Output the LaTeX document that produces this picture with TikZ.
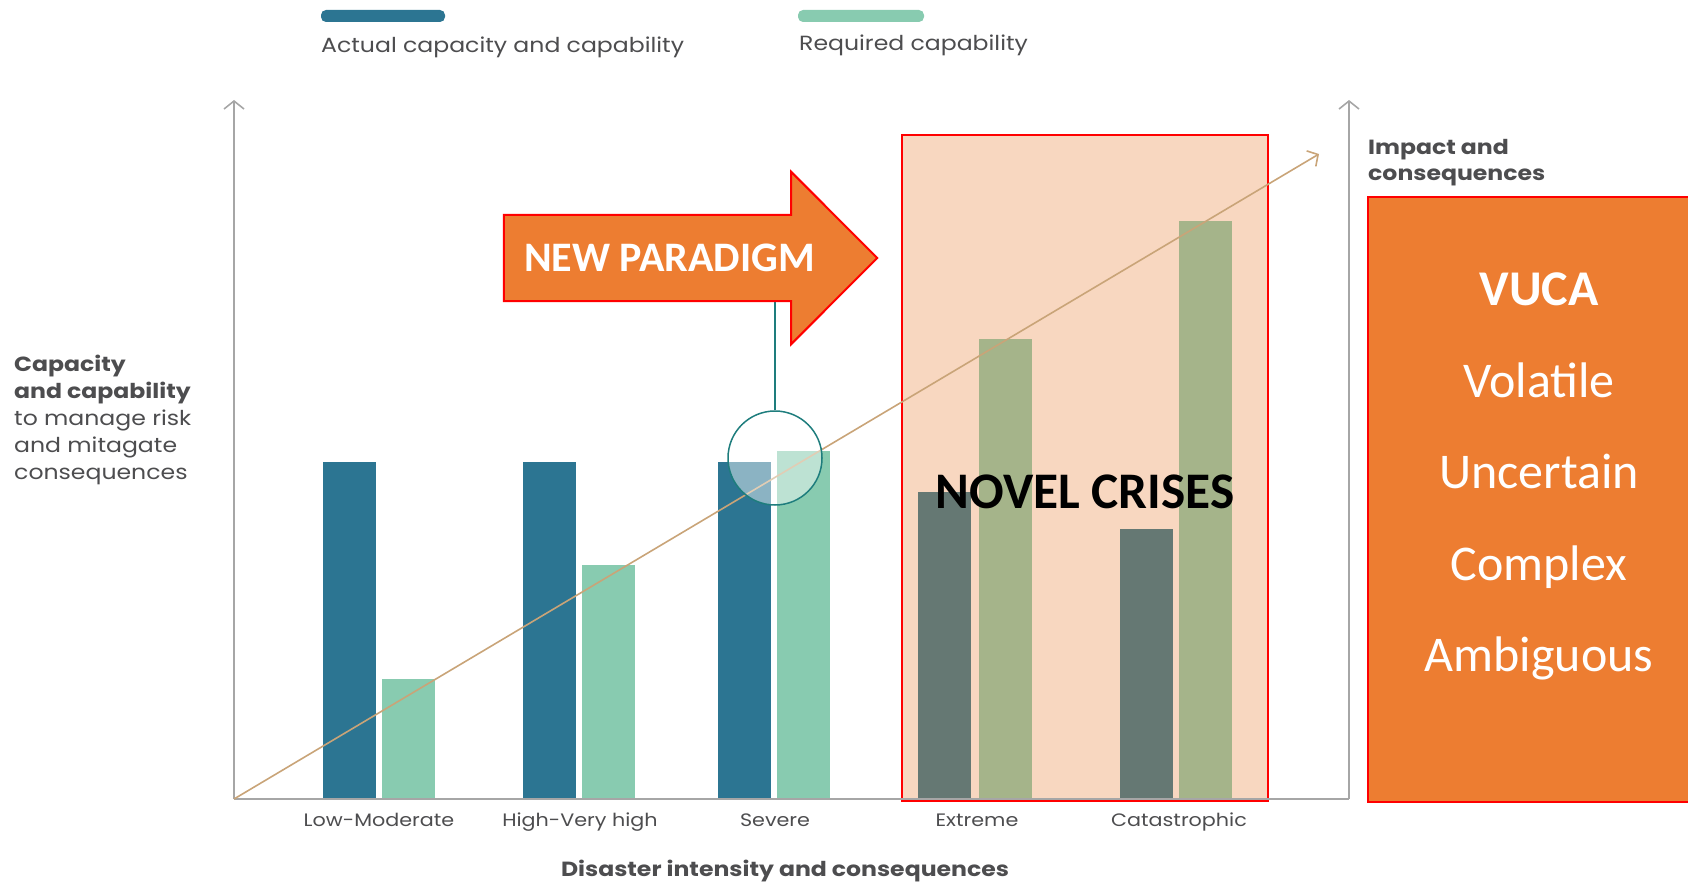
\documentclass[tikz,border=0pt]{standalone}
\usepackage{fontspec}
\setmainfont{Poppins}[FakeStretch=1.15]
\newfontfamily\calibri{Carlito}
\usetikzlibrary{arrows.meta,calc,positioning}
\definecolor{barA}{RGB}{44,117,146}
\definecolor{barR}{RGB}{136,203,176}
\definecolor{barX}{RGB}{101,120,115}
\definecolor{barG}{RGB}{165,180,138}
\definecolor{peach}{RGB}{248,215,192}
\definecolor{vucaorange}{RGB}{237,125,49}
\definecolor{trend}{RGB}{201,164,120}
\definecolor{axisgray}{RGB}{166,166,166}
\definecolor{ringteal}{RGB}{30,125,125}
\definecolor{labelgray}{RGB}{77,77,79}
\tikzset{
  axisline/.style={draw=axisgray,line width=1.6pt},
  axisarrow/.style={axisline,-{Straight Barb[length=8pt,width=20pt]}},
  catlabel/.style={font=\fontsize{18}{21}\selectfont,text=labelgray,inner sep=0pt,anchor=base},
  charttext/.style={font=\fontsize{20.5}{27}\selectfont,text=labelgray,inner sep=0pt,align=left},
  bigword/.style={font=\calibri\fontsize{50}{91.5}\selectfont,text=white,inner sep=0pt,align=center},
}
\begin{document}
\begin{tikzpicture}[x=1pt,y=-1pt]
\useasboundingbox (0,0) rectangle (1688,885);
% legend
\fill[barA,rounded corners=5pt] (321,10) rectangle (445,22);
\fill[barR,rounded corners=5pt] (798,10) rectangle (924,22);
\node[charttext,anchor=base west] (legactual) at (321,53) {Actual capacity and capability};
\node[charttext,anchor=base west] (legrequired) at (799,51) {Required capability};
% novel crises zone
\filldraw[fill=peach,draw=red,line width=2.2pt] (902,135) rectangle (1268,801);
% bars
\foreach \x/\top/\col in {323/462/barA,382/679/barR,523/462/barA,582/565/barR,
    718/462/barA,777/451/barR,918/492/barX,979/339/barG,1120/529/barX,1179/221/barG}
  \fill[\col] (\x,\top) rectangle (\x+53,799);
% axes
\coordinate (origin) at (234,799);
\coordinate (ytop) at (234,100);
\coordinate (xend) at (1349,799);
\coordinate (rtop) at (1349,100);
\coordinate (trendtip) at (1319,154);
\draw[axisarrow] (origin) -- (ytop);
\draw[axisline] (origin) -- (xend);
\draw[axisarrow] (xend) -- (rtop);
\draw[trend,line width=1.6pt,-{Straight Barb[length=8pt,width=18pt]}] (origin) -- (trendtip);
% new paradigm
\node[circle,draw=ringteal,line width=1.5pt,fill=white,fill opacity=0.45,minimum size=94pt] (ring) at (775,458) {};
\node[minimum width=287pt,minimum height=86pt,inner sep=0pt] (paradigm) at (647.5,258) {};
\draw[ringteal,line width=1.5pt] (ring.north) -- (ring.north |- paradigm.south);
\filldraw[fill=vucaorange,draw=red,line width=2pt] (paradigm.south west) -- (paradigm.north west)
  -- (paradigm.north east) -- ++(0,-43) -- ($(paradigm.east)+(86,0)$)
  -- ($(paradigm.south east)+(0,43)$) -- (paradigm.south east) -- cycle;
\node[font=\calibri\bfseries\fontsize{42}{48}\selectfont,text=white,inner sep=0pt,anchor=west,
  right=20pt of paradigm.west] (paradigmtext) {NEW PARADIGM};
\node[font=\calibri\bfseries\fontsize{51.3}{60}\selectfont,inner sep=0pt] (crises) at (1085,492) {NOVEL CRISES};
% vuca
\filldraw[fill=vucaorange,draw=red,line width=2.2pt] (1368,197) rectangle (1700,802);
\node[bigword] (vuca) at (1539,476.5) {\textbf{VUCA}\\Volatile\\Uncertain\\Complex\\Ambiguous};
% axis labels
\node[charttext,anchor=west] (ylabel) at (14,420)
  {\textbf{Capacity}\\\textbf{and capability}\\to manage risk\\and mitagate\\consequences};
\node[charttext,anchor=west,font=\bfseries\fontsize{20.5}{26}\selectfont] (impact) at (1368,163)
  {Impact and\\consequences};
\node[catlabel] (lowmod) at (379,826) {Low-Moderate};
\node[catlabel] (veryhigh) at (580,826) {High-Very high};
\node[catlabel] (severe) at (775,826) {Severe};
\node[catlabel] (extreme) at (977,826) {Extreme};
\node[catlabel] (catastrophic) at (1179,826) {Catastrophic};
\node[catlabel,font=\bfseries\fontsize{20.5}{24}\selectfont] (xtitle) at (785,876)
  {Disaster intensity and consequences};
\end{tikzpicture}
\end{document}
